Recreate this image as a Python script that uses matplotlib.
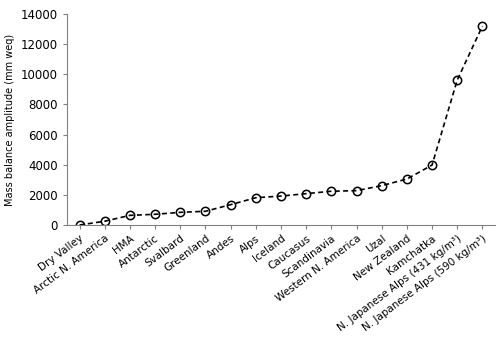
import matplotlib
matplotlib.use('Agg')
import matplotlib.pyplot as plt

regions = ['Dry Valley', 'Arctic N. America', 'HMA', 'Antarctic', 'Svalbard',
           'Greenland', 'Andes', 'Alps', 'Iceland', 'Caucasus', 'Scandinavia',
           'Western N. America', 'Uzal', 'New Zealand', 'Kamchatka',
           'N. Japanese Alps (431 kg/m³)', 'N. Japanese Alps (590 kg/m³)']
amplitude = [0, 250, 640, 710, 840, 910, 1350, 1810, 1920, 2080, 2240,
             2280, 2610, 3050, 3980, 9620, 13200]
yticks = [0, 2000, 4000, 6000, 8000, 10000, 12000, 14000]

fig = plt.figure(figsize=(5, 3.51), dpi=100)
ax = fig.add_axes([0.134, 0.359, 0.856, 0.601])

x = list(range(len(regions)))
ax.plot(x, amplitude, linestyle=(0, (3, 2)), color='black', linewidth=1.2,
        marker='o', markersize=6, markerfacecolor='none',
        markeredgecolor='black', markeredgewidth=1.1)

ax.set_xlim(-0.5, len(regions) - 0.5)
ax.set_ylim(0, 14000)
ax.set_yticks(yticks)
ax.set_xticks(x)
ax.set_xticklabels(regions, rotation=37, ha='right', rotation_mode='anchor',
                   fontsize=7.5)
ax.tick_params(axis='y', labelsize=8.5, length=3, color='#808080')
ax.tick_params(axis='x', length=3, color='#808080', pad=3)
ax.set_ylabel('Mass balance amplitude (mm weq)', fontsize=7)

for s in ['top', 'right']:
    ax.spines[s].set_visible(False)
for s in ['left', 'bottom']:
    ax.spines[s].set_color('#808080')

fig.savefig('out.png', dpi=100)
